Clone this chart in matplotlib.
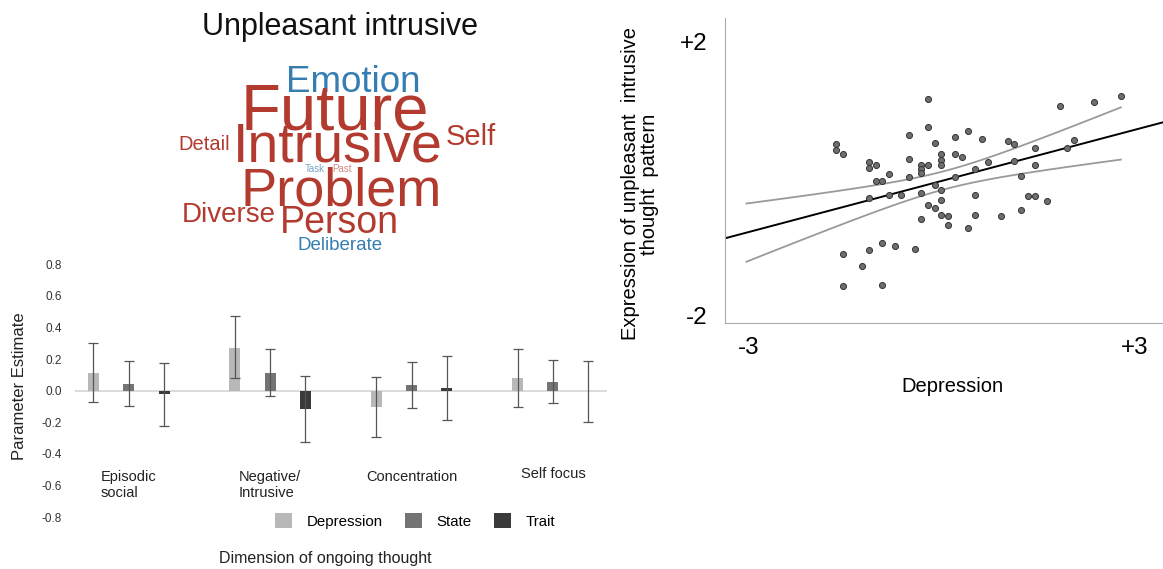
# Word cloud, parameter estimates and scatter for the unpleasant intrusive thought pattern
import matplotlib.pyplot as plt
import numpy as np

plt.rcParams['font.family'] = ['Liberation Sans', 'DejaVu Sans']

W, H = 1163, 569

# ---- word cloud ----
cloud_title = 'Unpleasant intrusive'
words = ['Emotion', 'Future', 'Intrusive', 'Self', 'Detail', 'Task', 'Past',
         'Problem', 'Diverse', 'Person', 'Deliberate']
word_weights = [26.5, 47, 40, 21, 14.5, 7, 7, 39, 20, 27, 13.5]
word_groups = ['blue', 'red', 'red', 'red', 'red', 'paleblue', 'palered',
               'red', 'red', 'red', 'blue']

# ---- parameter estimates (bars with 95% CI) ----
dimensions = ['Episodic\nsocial', 'Negative/\nIntrusive', 'Concentration', 'Self focus']
predictors = ['Depression', 'State', 'Trait']
depression_est = [0.109, 0.272, -0.103, 0.080]
depression_lo = [-0.074, 0.078, -0.295, -0.101]
depression_hi = [0.303, 0.474, 0.084, 0.265]
state_est = [0.044, 0.114, 0.034, 0.057]
state_lo = [-0.097, -0.036, -0.109, -0.080]
state_hi = [0.185, 0.263, 0.179, 0.194]
trait_est = [-0.019, -0.114, 0.015, 0.0]
trait_lo = [-0.223, -0.322, -0.183, -0.196]
trait_hi = [0.175, 0.095, 0.217, 0.185]
ytick_vals = [0.8, 0.6, 0.4, 0.2, 0.0, -0.2, -0.4, -0.6, -0.8]

# ---- scatter: depression vs expression of the thought pattern ----
depression = [-0.21, -0.21, -0.52, 0.40, 0.20, 0.62, -0.11, -1.65, -1.65, -1.54,
              1.02, 1.12, 1.44, 1.84, 2.37, 2.78, 2.05, 1.95, -0.01, -0.01,
              0.20, 0.31, -0.52, -1.13, -1.13, -1.03, -0.32, -0.21, -0.01, -0.32,
              -0.32, -0.83, -0.52, -1.03, -0.93, 0.71, 1.12, 1.44, 0.51, 0.20,
              1.23, -0.11, -0.01, -1.13, -0.83, -0.63, -0.32, -0.01, 0.51, 1.33,
              1.44, 1.64, -0.21, -0.11, -0.32, -0.01, 0.10, 0.10, 0.51, 0.41,
              0.92, 1.23, -1.54, -1.13, -0.93, -0.73, -0.42, -1.24, -1.54, -0.93]
expression = [1.16, 0.75, 0.63, 0.69, 0.61, 0.58, 0.52, 0.50, 0.41, 0.36,
              0.55, 0.50, 0.44, 1.06, 1.12, 1.21, 0.56, 0.45, 0.35, 0.27,
              0.35, 0.31, 0.28, 0.24, 0.15, 0.20, 0.20, 0.19, 0.19, 0.13,
              0.08, 0.06, 0.02, -0.04, -0.04, 0.24, 0.26, 0.20, 0.13, 0.02,
              0.04, -0.09, -0.17, -0.29, -0.25, -0.25, -0.21, -0.31, -0.24, -0.26,
              -0.26, -0.33, -0.39, -0.44, -0.59, -0.54, -0.55, -0.68, -0.53, -0.73,
              -0.55, -0.46, -1.10, -1.05, -0.94, -0.99, -1.03, -1.28, -1.58, -1.56]

fig = plt.figure(figsize=(W / 100, H / 100), dpi=100)

# word cloud drawn in pixel space on a full-figure axes
wc = fig.add_axes([0, 0, 1, 1])
wc.set_xlim(0, W)
wc.set_ylim(H, 0)
wc.axis('off')
palette = {'red': '#b23a2e', 'blue': '#347eb2', 'paleblue': '#7aa3c9', 'palered': '#d38a80'}
# centre x and baseline y (pixels) for each word
word_xy = [(353, 91.7), (335, 129), (338, 161.7), (471, 145), (204, 150), (315, 172),
           (342, 172), (341, 205), (229, 221.7), (339, 233.3), (340, 250)]
wc.text(340, 35, cloud_title, fontsize=22, ha='center', va='baseline', color='#111111')
for w, s, g, (x, y) in zip(words, word_weights, word_groups, word_xy):
    wc.text(x, y, w, fontsize=s, color=palette[g], ha='center', va='baseline')

# bar chart
ax = fig.add_axes([75 / W, 1 - 517.1 / H, 531.7 / W, (517.1 - 264.3) / H])
bar_colors = ['#b8b8b8', '#747474', '#3a3a3a']
ests = [depression_est, state_est, trait_est]
los = [depression_lo, state_lo, trait_lo]
his = [depression_hi, state_hi, trait_hi]
ax.axhline(0, color='#dadada', lw=1.4, zorder=1)
for b in range(3):
    x = np.arange(len(dimensions)) * 4 + b
    est = np.array(ests[b])
    yerr = [est - np.array(los[b]), np.array(his[b]) - est]
    ax.bar(x, est, width=0.31, color=bar_colors[b], label=predictors[b], zorder=2)
    ax.errorbar(x, est, yerr=yerr, fmt='none', ecolor='#555555', elinewidth=0.9,
                capsize=3.4, capthick=0.9, zorder=3)
label_y = [-0.499, -0.499, -0.499, -0.48]
for g, name in enumerate(dimensions):
    ax.text(g * 4 + 1, label_y[g], name, fontsize=10.5, ha='center', va='top',
            multialignment='left', color='#222222')
ax.set_xlim(-0.52, 14.52)
ax.set_ylim(-0.8, 0.8)
ax.set_xticks([])
ax.set_yticks(ytick_vals)
ax.set_yticklabels([f'{v:.1f}' for v in ytick_vals])
ax.tick_params(axis='y', length=0, pad=9.6, labelsize=8.5, labelcolor='#333333')
for sp in ax.spines.values():
    sp.set_visible(False)
fig.text(20 / W, 1 - 386 / H, 'Parameter Estimate', rotation=90, fontsize=12,
         ha='center', va='center', color='#222222')
fig.legend(*ax.get_legend_handles_labels(), loc='center', bbox_to_anchor=(415 / W, 1 - 521 / H),
           ncol=3, frameon=False, fontsize=10.8, handlelength=1.15, handleheight=1.1,
           handletextpad=0.95, columnspacing=1.5)
fig.text(325 / W, 1 - 559 / H, 'Dimension of ongoing thought', fontsize=11.5,
         ha='center', va='center', color='#222222')

# scatter with regression line and 95% confidence band
ax2 = fig.add_axes([724.5 / W, 1 - 323.3 / H, (W - 724.5) / W, (323.3 - 18.3) / H])
xd = np.array(depression)
yd = np.array(expression)
ax2.scatter(xd, yd, s=19, c='#6e6e6e', edgecolors='#333333', linewidths=0.7, zorder=3)
slope, intercept = np.polyfit(xd, yd, 1)
n = len(xd)
resid = yd - (slope * xd + intercept)
s = np.sqrt(np.sum(resid ** 2) / (n - 2))
sxx = np.sum((xd - xd.mean()) ** 2)
xl = np.linspace(-3.4, 3.5, 50)
ax2.plot(xl, slope * xl + intercept, color='black', lw=1.4, zorder=2)
xb = np.linspace(-3.04, xd.max(), 100)
hw = 1.995 * s * np.sqrt(1 / n + (xb - xd.mean()) ** 2 / sxx)
ax2.plot(xb, slope * xb + intercept + hw, color='#9a9a9a', lw=1.3, zorder=2)
ax2.plot(xb, slope * xb + intercept - hw, color='#9a9a9a', lw=1.3, zorder=2)
ax2.set_xlim(-3.381, 3.436)
ax2.set_ylim(-2.121, 2.342)
ax2.set_xticks([-3, 3])
ax2.set_xticklabels(['-3', '+3'])
ax2.set_yticks([-2, 2])
ax2.set_yticklabels(['-2', '+2'])
ax2.tick_params(axis='x', length=0, pad=10, labelsize=17.5)
ax2.tick_params(axis='y', length=0, pad=12.5, labelsize=17.5)
ax2.spines['top'].set_visible(False)
ax2.spines['right'].set_visible(False)
ax2.spines['left'].set_color('#aaaaaa')
ax2.spines['bottom'].set_color('#aaaaaa')
fig.text(952 / W, 1 - 392 / H, 'Depression', fontsize=14.5, ha='center', va='baseline')
fig.text(640 / W, 1 - 184 / H, 'Expression of unpleasant  intrusive\nthought  pattern',
         rotation=90, fontsize=14.5, ha='center', va='center', multialignment='center',
         linespacing=1.0)

fig.savefig('out.png', dpi=100)
